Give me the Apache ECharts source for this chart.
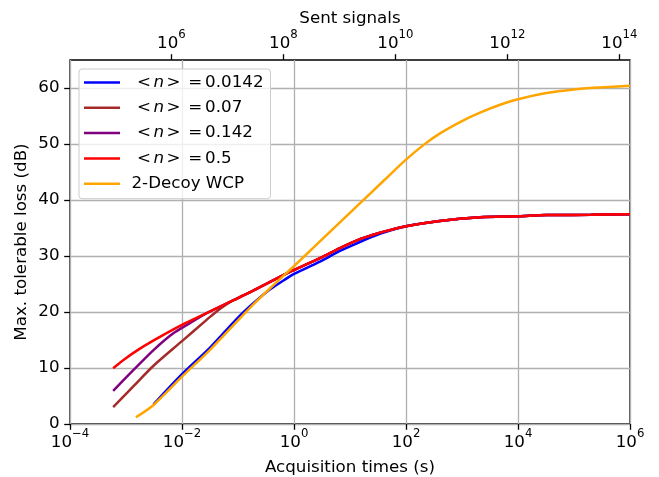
<!DOCTYPE html>
<html>
<head>
<meta charset="utf-8">
<script src="https://cdn.jsdelivr.net/npm/echarts@6/dist/echarts.min.js"></script>
<style>html,body{margin:0;padding:0;background:#fff}#c{width:659px;height:477px}</style>
</head>
<body>
<div id="c"></div>
<script>
// Acquisition time (s) and max tolerable loss (dB) for each series
const blueTime = [3.1e-3, 1e-2, 3.2e-2, 0.1, 0.19, 0.37, 0.74, 1, 2.9, 6.6, 15, 26, 40, 100, 400, 2100, 1e4, 3.2e4, 2e5, 1e6];
const blueLoss = [3.5, 8.9, 13.7, 19.0, 21.6, 24.0, 26.0, 26.8, 29.0, 30.9, 32.5, 33.5, 34.2, 35.3, 36.25, 36.9, 37.1, 37.3, 37.35, 37.45];

const brownTime = [5.9e-4, 1.35e-3, 3.1e-3, 1e-2, 2.75e-2, 4.8e-2, 8.3e-2, 0.19, 0.74, 1, 2.9, 6.6, 15, 26, 40, 100, 400, 2100, 1e4, 3.2e4, 2e5, 1e6];
const brownLoss = [3.0, 6.7, 10.4, 14.8, 18.6, 20.6, 22.1, 23.85, 26.9, 27.5, 29.6, 31.4, 33.0, 33.8, 34.35, 35.3, 36.25, 36.9, 37.1, 37.3, 37.35, 37.45];

const purpleTime = [5.9e-4, 1.35e-3, 3.1e-3, 7e-3, 1.38e-2, 2.75e-2, 8.3e-2, 0.19, 0.74, 1, 2.9, 6.6, 15, 26, 40, 100, 400, 2100, 1e4, 3.2e4, 2e5, 1e6];
const purpleLoss = [5.9, 9.6, 13.2, 16.2, 18.0, 19.8, 22.1, 23.85, 26.9, 27.5, 29.6, 31.4, 33.0, 33.8, 34.35, 35.3, 36.25, 36.9, 37.1, 37.3, 37.35, 37.45];

const redTime = [5.9e-4, 8.9e-4, 1.8e-3, 4.1e-3, 1e-2, 2.75e-2, 8.3e-2, 0.19, 0.74, 1, 2.9, 6.6, 15, 26, 40, 100, 400, 2100, 1e4, 3.2e4, 2e5, 1e6];
const redLoss = [9.95, 11.4, 13.5, 15.6, 17.7, 19.8, 22.1, 23.85, 26.9, 27.5, 29.6, 31.4, 33.0, 33.8, 34.35, 35.3, 36.25, 36.9, 37.1, 37.3, 37.35, 37.45];

const wcpTime = [1.5e-3, 3.1e-3, 1e-2, 3.2e-2, 0.1, 0.19, 0.37, 0.74, 1, 2.2, 2.9, 6.6, 15, 39, 100, 204, 405, 1000, 2100, 4800, 1e4, 3.2e4, 1e5, 2.9e5, 1e6];
const wcpLoss = [1.2, 3.4, 8.45, 13.3, 18.5, 21.4, 24.2, 27.0, 28.2, 31.45, 32.6, 36.0, 39.4, 43.35, 47.2, 49.8, 51.9, 54.1, 55.6, 57.0, 58.0, 59.1, 59.75, 60.1, 60.4];

const seriesNames = ['<n> = 0.0142', '<n> = 0.07', '<n> = 0.142', '<n> = 0.5', '2-Decoy WCP'];
const seriesColors = ['#0000ff', '#a52a2a', '#800080', '#ff0000', '#ffa500'];
const yTicks = [0, 10, 20, 30, 40, 50, 60];
const timeTicks = [1e-4, 1e-2, 1, 1e2, 1e4, 1e6];
const sentTicks = [6, 8, 10, 12, 14]; // exponents of sent signals

const pairs = (t, v) => t.map((x, i) => [x, v[i]]);
const seriesData = [
  pairs(blueTime, blueLoss),
  pairs(brownTime, brownLoss),
  pairs(purpleTime, purpleLoss),
  pairs(redTime, redLoss),
  pairs(wcpTime, wcpLoss)
];

const FONT = 'DejaVu Sans';
const FS = 16.7;
const supRich = {
  b: { fontSize: FS, fontFamily: FONT, color: '#000' },
  s: { fontSize: 11.7, fontFamily: FONT, color: '#000', padding: [0, 0, 18, 0] }
};
function powLabel(e) {
  const s = e < 0 ? '\u2212' + (-e) : String(e);
  return '{b|10}{s|' + s + '}';
}

const chart = echarts.init(document.getElementById('c'), null, { renderer: 'canvas' });
chart.setOption({
  animation: false,
  backgroundColor: '#fff',
  textStyle: { fontFamily: FONT },
  grid: {
    left: 70, right: 29, top: 60, bottom: 53, containLabel: false, outerBoundsMode: 'none',
    show: true, borderColor: '#000', borderWidth: 1.3, backgroundColor: 'transparent'
  },
  legend: {
    orient: 'vertical',
    left: 79, top: 69,
    padding: [3.5, 7, 5, 5],
    itemWidth: 36, itemHeight: 2.5, itemGap: 5.3,
    icon: 'rect',
    backgroundColor: 'rgba(255,255,255,0.8)',
    borderColor: '#cccccc', borderWidth: 1, borderRadius: 3,
    data: seriesNames,
    formatter: function (name) {
      if (name.indexOf('<n>') === 0) {
        return '{l|<}{i|n}{r|>}{e|=}{t|' + name.slice(6) + '}';
      }
      return '{w|' + name + '}';
    },
    textStyle: {
      fontSize: FS, fontFamily: FONT, color: '#000', lineHeight: 20,
      rich: {
        l: { fontSize: FS, fontFamily: FONT, padding: [0, 2.5, 0, 12] },
        i: { fontSize: FS, fontFamily: FONT, fontStyle: 'italic' },
        r: { fontSize: FS, fontFamily: FONT, padding: [0, 0, 0, 2.5] },
        e: { fontSize: FS, fontFamily: FONT, padding: [0, 0, 0, 7.6] },
        t: { fontSize: FS, fontFamily: FONT, padding: [0, 0, 0, 3] },
        w: { fontSize: FS, fontFamily: FONT, padding: [0, 0, 0, 6.5] }
      }
    },
    itemStyle: { borderWidth: 0 }
  },
  xAxis: [
    {
      type: 'log', logBase: 10, min: 1e-4, max: 1e6, interval: 2, position: 'bottom',
      name: 'Acquisition times (s)', nameLocation: 'middle', nameGap: 35, nameMoveOverlap: false,
      nameTextStyle: { fontSize: FS, fontFamily: FONT, color: '#000' },
      axisLine: { show: false },
      axisTick: { show: true, inside: false, length: 5.8, customValues: timeTicks, lineStyle: { color: '#000', width: 1.3 } },
      minorTick: { show: false },
      axisLabel: {
        margin: 4, color: '#000', customValues: timeTicks,
        formatter: function (v) { return powLabel(Math.round(Math.log10(v))); },
        rich: supRich
      },
      splitLine: { show: true, lineStyle: { color: '#b0b0b0', width: 1.3 } }
    },
    {
      type: 'value', min: 4.19, max: 14.19, position: 'top',
      name: 'Sent signals', nameLocation: 'middle', nameGap: 33, nameMoveOverlap: false,
      nameTextStyle: { fontSize: FS, fontFamily: FONT, color: '#000' },
      axisLine: { show: false },
      axisTick: { show: true, inside: false, length: 5.8, customValues: sentTicks, lineStyle: { color: '#000', width: 1.3 } },
      axisLabel: {
        margin: 1, color: '#000', customValues: sentTicks,
        formatter: function (v) { return powLabel(Math.round(v)); },
        rich: supRich
      },
      splitLine: { show: false }
    }
  ],
  yAxis: {
    type: 'value', min: 0, max: 65, interval: 10,
    name: 'Max. tolerable loss (dB)', nameLocation: 'middle', nameGap: 40, nameMoveOverlap: false,
    nameTextStyle: { fontSize: FS, fontFamily: FONT, color: '#000' },
    axisLine: { show: false },
    axisTick: { show: true, inside: false, length: 5.8, customValues: yTicks, lineStyle: { color: '#000', width: 1.3 } },
    axisLabel: { fontSize: FS, fontFamily: FONT, color: '#000', margin: 10.5, customValues: yTicks },
    splitLine: { show: true, lineStyle: { color: '#b0b0b0', width: 1.3 } }
  },
  series: seriesNames.map((n, i) => ({
    name: n,
    type: 'line',
    xAxisIndex: 0,
    data: seriesData[i],
    symbol: 'none',
    smooth: 0.3,
    color: seriesColors[i],
    lineStyle: { color: seriesColors[i], width: 2.5 },
    z: 2 + i
  }))
});
</script>
</body>
</html>
